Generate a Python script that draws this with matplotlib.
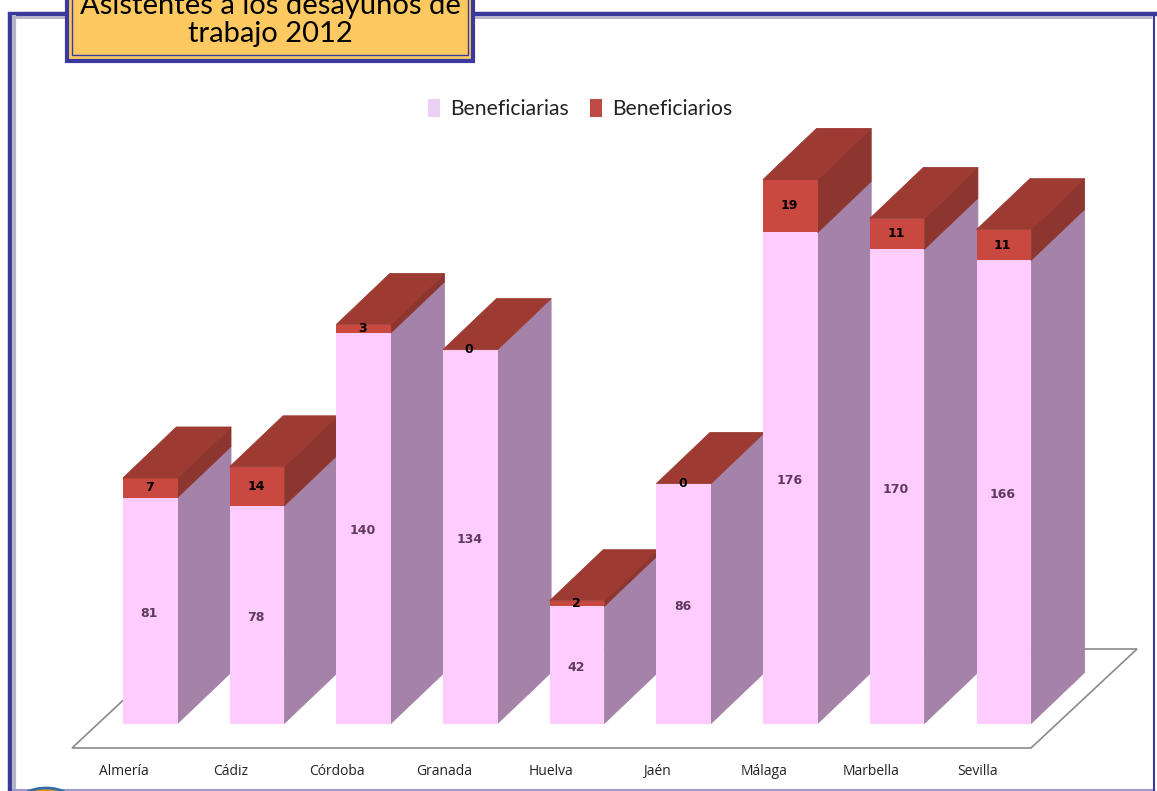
import matplotlib
matplotlib.use('Agg')
import matplotlib.pyplot as plt
from matplotlib.patches import Patch, Rectangle, Ellipse

# datos
provincias = ['Almería', 'Cádiz', 'Córdoba', 'Granada', 'Huelva', 'Jaén', 'Málaga', 'Marbella', 'Sevilla']
beneficiarias = [81, 78, 140, 134, 42, 86, 176, 170, 166]
beneficiarios = [7, 14, 3, 0, 2, 0, 19, 11, 11]

W, H = 1157, 791
PASO = 106.7     # px entre barras
ESCALA = 2.79    # px por unidad
X0, Y0 = 150.2, 723.5

plt.rcParams['lines.solid_capstyle'] = 'butt'

fig = plt.figure(figsize=(W / 100, H / 100), dpi=100)
fig.patch.set_facecolor('white')

# capa de fondo en pixeles: marco
bg = fig.add_axes([0, 0, 1, 1])
bg.set_xlim(0, W)
bg.set_ylim(H, 0)
bg.axis('off')
bg.plot([9.5, 9.5], [12, H], color='#3a3a9e', lw=3.2)
bg.plot([7.5, W], [13.5, 13.5], color='#3a3a9e', lw=3.2)
bg.plot([13.5, 13.5], [15, H], color='#b4b4c4', lw=3)
bg.plot([12, 1152], [17, 17], color='#b4b4c4', lw=2)
bg.plot([1153.5, 1153.5], [13, H], color='#3a3a9e', lw=1.5)
bg.plot([12, 1153], [789.5, 789.5], color='#9c9cd0', lw=1.5)
bg.add_patch(Ellipse((46, 806), 60, 36, fc='#e8901c', ec='#2f6fa8', lw=2, zorder=3))

# ejes de datos: x = indice de categoria, y = valor
ax = fig.add_axes([0, 0, 1, 1])
ax.patch.set_alpha(0)
ax.set_xlim((0 - X0) / PASO, (W - X0) / PASO)
ax.set_ylim((Y0 - H) / ESCALA, Y0 / ESCALA)
ax.axis('off')

ANCHO = 54.6 / PASO
DX = 53.5 / PASO
DY = 51 / ESCALA

# suelo
sx0 = (72 - X0) / PASO
sx1 = (1031 - X0) / PASO
sy0 = (Y0 - 748) / ESCALA
ax.fill([sx0, sx1, sx1 + 106 / PASO, sx0 + 106 / PASO],
        [sy0, sy0, sy0 + 99 / ESCALA, sy0 + 99 / ESCALA],
        fc='white', ec='#8a8a8a', lw=1.2, zorder=1)

def caja(x, y0, y1, frente, lado, z):
    der = x + ANCHO / 2
    ax.fill([der, der + DX, der + DX, der], [y0, y0 + DY, y1 + DY, y1], fc=lado, ec=lado, lw=0.6, zorder=z)
    ax.bar(x, y1 - y0, ANCHO, bottom=y0, color=frente, zorder=z + 0.1)

for i, (a, b) in enumerate(zip(beneficiarias, beneficiarios)):
    z = 2 + i
    caja(i, 0, a, '#ffccff', '#a583a8', z)
    if b > 0:
        caja(i, a, a + b, '#c9483f', '#8d352f', z + 0.2)
    izq = i - ANCHO / 2
    der = i + ANCHO / 2
    t = a + b
    ax.fill([izq, der, der + DX, izq + DX], [t, t, t + DY, t + DY], fc='#9d3a32', ec='#9d3a32', lw=0.6, zorder=z + 0.5)
    ax.text(i - 0.01, a / 2 - 1, str(a), ha='center', va='center', fontsize=9, color='#5e3a5e',
            family='DejaVu Sans', fontweight='bold', zorder=20)
    ax.text(i - 0.01, a + b / 2, str(b), ha='center', va='center', fontsize=9, color='black',
            family='DejaVu Sans', fontweight='bold', zorder=20)
    ax.text(i - 0.247, (Y0 - 775) / ESCALA, provincias[i], ha='center', va='baseline', fontsize=10,
            color='#222222', family='Open Sans', zorder=20)

# leyenda
handles = [Patch(fc='#ead0f5', ec='none', label='Beneficiarias'), Patch(fc='#bf4a44', ec='none', label='Beneficiarios')]
fig.legend(handles=handles, loc='center', bbox_to_anchor=(580 / W, 1 - 109 / H), ncol=2, frameon=False,
           prop={'family': 'Lato', 'size': 15.2}, handlelength=0.6, handleheight=0.9, handletextpad=0.45,
           columnspacing=1.0, labelcolor='#222222')

# titulo en su caja
top = fig.add_axes([0, 0, 1, 1])
top.patch.set_alpha(0)
top.set_xlim(0, W)
top.set_ylim(H, 0)
top.axis('off')
top.add_patch(Rectangle((67, -10), 406, 71, fc='#ffc961', ec='#3a3a9e', lw=3, zorder=5))
top.add_patch(Rectangle((72, -10), 396, 65, fc='none', ec='#3a3a9e', lw=1, zorder=6))
top.text(270.5, 20, 'Asistentes a los desayunos de\ntrabajo 2012', ha='center', va='center', fontsize=21,
         family='Lato', linespacing=1.12, color='black', zorder=7, clip_on=True)

fig.savefig('out.png', dpi=100)
